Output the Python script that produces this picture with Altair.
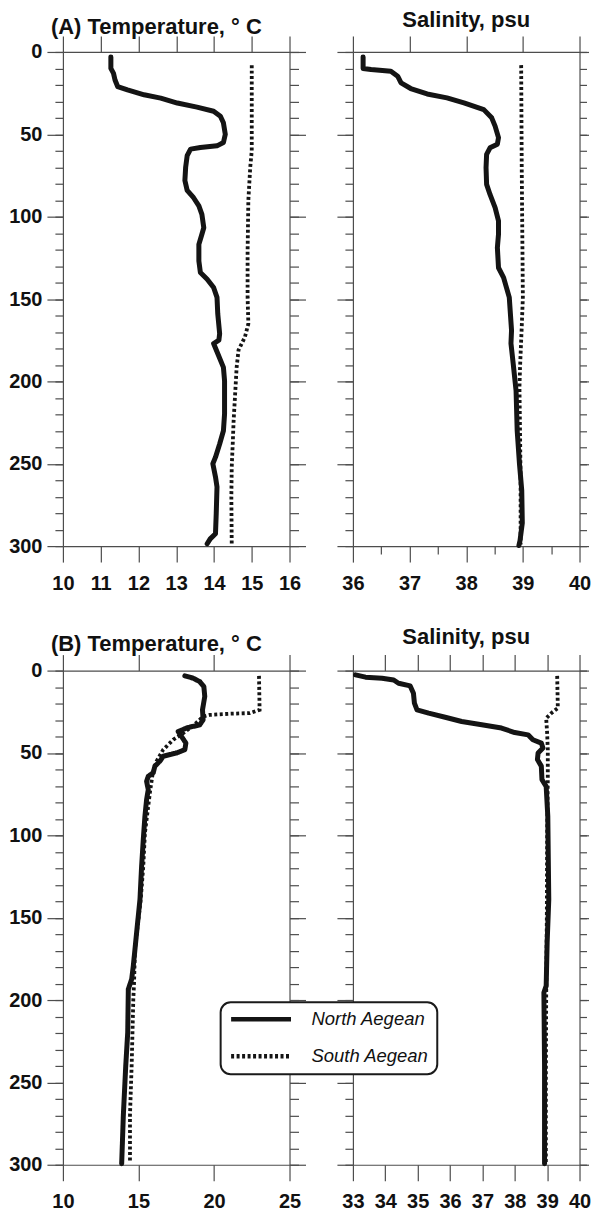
import altair as alt
import pandas as pd

# ---------------- data ----------------
regions = ["North Aegean", "South Aegean"]

# (A) Temperature
a_temp_north_depth = [3, 10, 13, 17, 21, 23, 26, 28, 31, 33.5, 36, 39, 43, 50, 55, 57, 58, 59, 63, 70,
                      78, 84, 88.5, 93.5, 98.6, 106.7, 110.7, 116.8, 126.9, 133.9, 138, 143, 149, 159,
                      171, 175, 177, 182, 191.5, 199.6, 219.8, 230, 238, 246, 250, 258, 264, 280, 292.5,
                      295.6, 298.6]
a_temp_north = [11.27, 11.27, 11.34, 11.38, 11.45, 11.71, 12.15, 12.59, 13.03, 13.55, 13.99, 14.17, 14.25,
                14.30, 14.25, 14.08, 13.64, 13.38, 13.29, 13.25, 13.23, 13.29, 13.46, 13.60, 13.68, 13.73,
                13.68, 13.60, 13.60, 13.64, 13.82, 13.99, 14.08, 14.10, 14.15, 14.13, 13.99, 14.08, 14.25,
                14.28, 14.28, 14.25, 14.15, 14.04, 13.97, 14.04, 14.08, 14.06, 14.04, 13.90, 13.82]
a_temp_south_depth = [8, 50, 60, 70, 90, 121, 149, 165, 173, 181, 191.5, 207.7, 223.8, 236, 252, 270, 298.6]
a_temp_south = [15.0, 15.0, 15.0, 14.96, 14.91, 14.89, 14.89, 14.91, 14.82, 14.65, 14.6, 14.56, 14.52,
                14.5, 14.47, 14.46, 14.47]

# (A) Salinity
a_sal_north_depth = [3, 10, 10.7, 11.7, 14.7, 18.8, 22.2, 25.5, 27.9, 30.9, 35, 40, 45, 52, 56, 58.2, 62.2,
                     70.3, 80.4, 86.5, 94.5, 102.6, 110.7, 118.8, 131, 137, 149, 169, 177, 189.5, 205.7,
                     230, 250, 266, 286, 296.6, 299.6]
a_sal_north = [36.18, 36.18, 36.32, 36.67, 36.79, 36.85, 37.02, 37.31, 37.66, 37.96, 38.31, 38.45, 38.51,
               38.57, 38.55, 38.42, 38.36, 38.35, 38.36, 38.42, 38.51, 38.57, 38.57, 38.55, 38.57, 38.66,
               38.76, 38.80, 38.79, 38.83, 38.88, 38.90, 38.94, 38.98, 38.99, 38.95, 38.93]
a_sal_south_depth = [8, 70, 149, 167, 191.5, 203.6, 230, 260, 299]
a_sal_south = [38.97, 38.98, 39.0, 38.98, 38.95, 38.94, 38.95, 38.96, 38.96]

# (B) Temperature
b_temp_north_depth = [3.2, 4.6, 6.7, 9.7, 15.7, 23.8, 29.9, 32.9, 34.9, 37, 40, 44, 48, 50, 52, 55, 58, 62,
                      64.2, 67.2, 72.3, 78.3, 88.4, 102.6, 118.7, 139, 159, 179.3, 187.4, 193.4, 219.7,
                      239.9, 270, 299.4]
b_temp_north = [18.07, 18.62, 19.06, 19.33, 19.39, 19.24, 19.28, 19.06, 18.18, 17.63, 17.85, 18.14, 18.07,
                17.52, 16.64, 16.42, 16.09, 15.98, 15.65, 15.54, 15.65, 15.54, 15.43, 15.32, 15.21, 15.10,
                14.88, 14.66, 14.55, 14.33, 14.29, 14.16, 14.0, 13.89]
b_temp_south_depth = [3.2, 23.8, 25.8, 26.2, 26.9, 27.9, 32, 38, 42, 46, 48, 55, 62, 67, 74, 98.5, 118.7,
                      139, 169, 189.4, 199.5, 240, 270, 298.4]
b_temp_south = [22.98, 23.02, 22.37, 21.05, 19.72, 19.28, 18.8, 17.96, 17.3, 16.86, 16.64, 16.2, 15.95,
                15.87, 15.76, 15.43, 15.32, 15.15, 14.77, 14.71, 14.66, 14.55, 14.44, 14.44]

# (B) Salinity
b_sal_north_depth = [2.6, 4, 4.6, 5.7, 7.7, 9.3, 13.7, 19.8, 23.8, 25.8, 28.3, 30.9, 32.9, 34.9, 37.6, 39,
                     42, 44, 47, 50, 54, 58, 66.2, 70.3, 88.4, 139, 165, 191.4, 195.4, 240, 299.4]
b_sal_north = [33.08, 33.39, 33.9, 34.26, 34.41, 34.77, 34.87, 34.9, 34.98, 35.34, 35.85, 36.36, 36.98,
               37.59, 38.0, 38.41, 38.56, 38.82, 38.87, 38.72, 38.7, 38.82, 38.84, 38.97, 39.02, 39.05,
               39.0, 38.97, 38.9, 38.92, 38.92]
b_sal_south_depth = [3.2, 22.8, 25.8, 28.9, 38, 48, 66.2, 100, 150, 200, 250, 299]
b_sal_south = [39.31, 39.33, 39.13, 38.97, 39.0, 39.02, 39.02, 39.0, 38.99, 38.97, 38.96, 38.96]

# axis tick values
depth_major = [0, 50, 100, 150, 200, 250, 300]
depth_minor = list(range(0, 301, 10))
a_temp_ticks = [10, 11, 12, 13, 14, 15, 16]
a_sal_ticks = [36, 37, 38, 39, 40]
a_sal_minor = [36.5, 37.5, 38.5, 39.5]
b_temp_ticks = [10, 15, 20, 25]
b_sal_ticks = [33, 34, 35, 36, 37, 38, 39, 40]

# ---------------- styling ----------------
FONT = "Liberation Sans"
INK = "#141414"
FRAME = "#4d4d4d"
W, H = 227, 495


def axis(**kw):
    base = dict(title=None, grid=False, domainColor=FRAME, domainWidth=1.2, tickColor=FRAME,
                tickWidth=1.2, labelFont=FONT, labelFontSize=20, labelFontWeight="bold",
                labelColor="#111111", labelFlush=False, labelOverlap=False)
    base.update(kw)
    return alt.Axis(**base)


def panel(nd, nv, sd, sv, xdom, xmajor, xminor, title, is_temp, title_dx, title_offset,
          legend=None):
    ndf = pd.DataFrame({"depth": nd, "value": nv, "region": regions[0]})
    sdf = pd.DataFrame({"depth": sd, "value": sv, "region": regions[1]})
    xs = alt.Scale(domain=xdom, nice=False, zero=False)
    ys = alt.Scale(domain=[0, 300], reverse=True, nice=False, zero=False)
    r_major = 16 if is_temp else 9
    r_minor = 9 if is_temp else 7

    n_enc = dict(
        x=alt.X("value:Q", scale=xs,
                axis=axis(orient="bottom", values=xmajor, tickSize=16, labelPadding=11)),
        y=alt.Y("depth:Q", scale=ys,
                axis=axis(orient="left", values=depth_major, tickSize=16, labelPadding=5,
                          labels=is_temp)),
        order=alt.Order("depth:Q"),
    )
    s_enc = dict(
        x=alt.X("value:Q", scale=xs,
                axis=axis(orient="top", values=xmajor, tickSize=16, labels=False)),
        y=alt.Y("depth:Q", scale=ys,
                axis=axis(orient="right", values=depth_major, tickSize=r_major, labels=False)),
        order=alt.Order("depth:Q"),
    )
    if legend is not None:
        dash = alt.StrokeDash("region:N",
                              scale=alt.Scale(domain=regions, range=[[1, 0], [3, 2.5]]),
                              legend=legend)
        n_enc["strokeDash"] = dash
        s_enc["strokeDash"] = dash
    else:
        s_enc["strokeDash"] = alt.value([3, 2.5])

    south = alt.Chart(sdf).mark_line(color=INK, strokeWidth=3.8, strokeCap="butt").encode(**s_enc)
    north = alt.Chart(ndf).mark_line(color=INK, strokeWidth=5, strokeCap="round",
                                     strokeJoin="round").encode(**n_enc)

    minor_l = alt.Chart(ndf).mark_line(opacity=0).encode(
        x=alt.X("value:Q", scale=xs,
                axis=(axis(orient="bottom", values=xminor, tickSize=8, labels=False, domain=False)
                      if xminor else None)),
        y=alt.Y("depth:Q", scale=ys,
                axis=axis(orient="left", values=depth_minor, tickSize=8, labels=False,
                          domain=False)),
    )
    minor_r = alt.Chart(ndf).mark_line(opacity=0).encode(
        x=alt.X("value:Q", scale=xs, axis=None),
        y=alt.Y("depth:Q", scale=ys,
                axis=axis(orient="right", values=depth_minor, tickSize=r_minor, labels=False,
                          domain=False)),
    )

    return alt.layer(minor_l, minor_r, south, north).resolve_axis(
        x="independent", y="independent"
    ).properties(
        width=W, height=H,
        title=alt.TitleParams(text=title, anchor="start" if is_temp else "middle", frame="group",
                              dx=title_dx, offset=title_offset, font=FONT,
                              fontSize=22, fontWeight="bold", color="#111111"),
    )


legend = alt.Legend(
    title=None, orient="none", legendX=158, legendY=952, symbolType="stroke", symbolSize=3600,
    symbolStrokeWidth=4.5, symbolStrokeColor=INK, clipHeight=18, rowPadding=18, labelOffset=18,
    labelFont=FONT, labelFontSize=18.5, labelFontStyle="italic", labelColor="#111111", padding=8,
    cornerRadius=10, strokeColor="#1a1a1a", fillColor="white", zindex=1,
)

tA = panel(a_temp_north_depth, a_temp_north, a_temp_south_depth, a_temp_south, [10, 16],
           a_temp_ticks, None, "(A) Temperature, \u00b0 C", True, -12, -3.5)
sA = panel(a_sal_north_depth, a_sal_north, a_sal_south_depth, a_sal_south, [36, 40],
           a_sal_ticks, a_sal_minor, "Salinity, psu", False, 0, 3)
tB = panel(b_temp_north_depth, b_temp_north, b_temp_south_depth, b_temp_south, [10, 25],
           b_temp_ticks, None, "(B) Temperature, \u00b0 C", True, -12, -1.5, legend=legend)
sB = panel(b_sal_north_depth, b_sal_north, b_sal_south_depth, b_sal_south, [33, 40],
           b_sal_ticks, None, "Salinity, psu", False, 0, 5)

chart = alt.concat(
    tA, sA, tB, sB, columns=2, spacing={"row": 124.7, "column": 63.5}, bounds="flush"
).configure_view(stroke=None).configure_legend(strokeWidth=2).properties(
    padding={"left": 0, "top": 0, "right": 0, "bottom": 0}
)

chart.save("out.html", embed_options={"renderer": "svg", "actions": False})
